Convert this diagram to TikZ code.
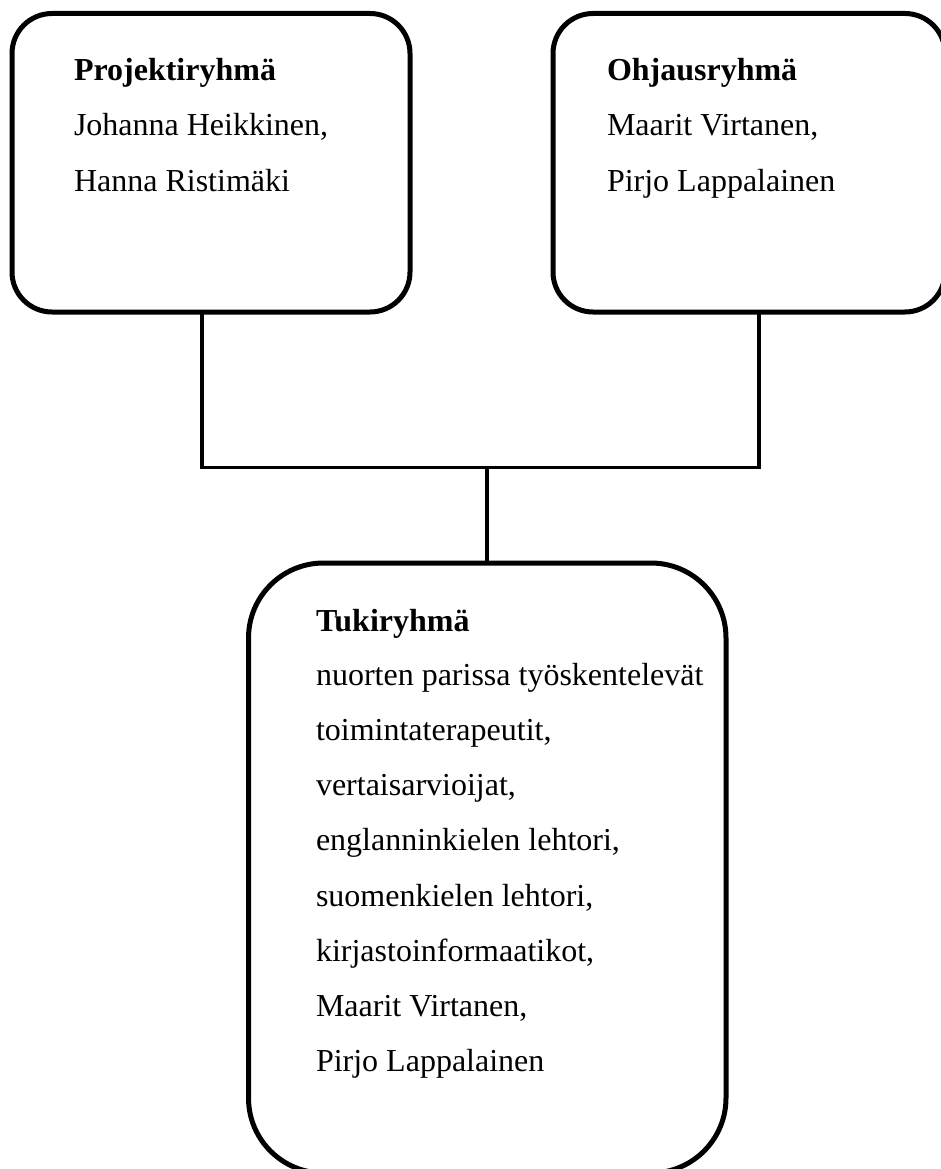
\documentclass[tikz,border=0pt]{standalone}
\usepackage{fontspec}
\setmainfont{Liberation Serif}
\begin{document}
\begin{tikzpicture}[x=1pt,y=-1pt,
  grp/.style={draw=black, line width=5pt, rounded corners=#1, inner sep=0pt, outer sep=0pt, anchor=north west},
  txt/.style={anchor=base west, inner sep=0pt, outer sep=0pt, font=\fontsize{32}{40}\selectfont},
  hd/.style={txt, font=\fontsize{32}{40}\selectfont\bfseries},
  conn/.style={draw=black, line width=3.5pt}]
\useasboundingbox (0,0) rectangle (941,1169);
% boxes
\node[grp=40pt, minimum width=398pt, minimum height=298.5pt] (box1) at (12,13.5) {};
\node[grp=40pt, minimum width=392pt, minimum height=298.5pt] (box2) at (553,13.5) {};
\node[grp=75pt, minimum width=477.5pt, minimum height=610pt] (box3) at (248.5,563) {};
% texts
\node[hd]  (t1a) at (74,80.5)  {Projektiryhmä};
\node[txt] (t1b) at (74,135.8) {Johanna Heikkinen,};
\node[txt] (t1c) at (74,191.3) {Hanna Ristimäki};
\node[hd]  (t2a) at (607,80.5)  {Ohjausryhmä};
\node[txt] (t2b) at (607,135.8) {Maarit Virtanen,};
\node[txt] (t2c) at (607,191.3) {Pirjo Lappalainen};
\node[hd]  (t3a) at (316,631)   {Tukiryhmä};
\node[txt] (t3b) at (316,685.1) {nuorten parissa työskentelevät};
\node[txt] (t3c) at (316,740.3) {toimintaterapeutit,};
\node[txt] (t3d) at (316,795.6) {vertaisarvioijat,};
\node[txt] (t3e) at (316,850.9) {englanninkielen lehtori,};
\node[txt] (t3f) at (316,906.1) {suomenkielen lehtori,};
\node[txt] (t3g) at (316,961.4) {kirjastoinformaatikot,};
\node[txt] (t3h) at (316,1016.6) {Maarit Virtanen,};
\node[txt] (t3i) at (316,1071.9) {Pirjo Lappalainen};
% connectors
\coordinate (jl) at (202,467.5);
\coordinate (jr) at (759,467.5);
\coordinate (jm) at (487,467.5);
\draw[conn] (box1.south -| jl) -- (jl) -- (jr) -- (box2.south -| jr);
\draw[conn] (jm) -- (box3.north -| jm);
\end{tikzpicture}
\end{document}
